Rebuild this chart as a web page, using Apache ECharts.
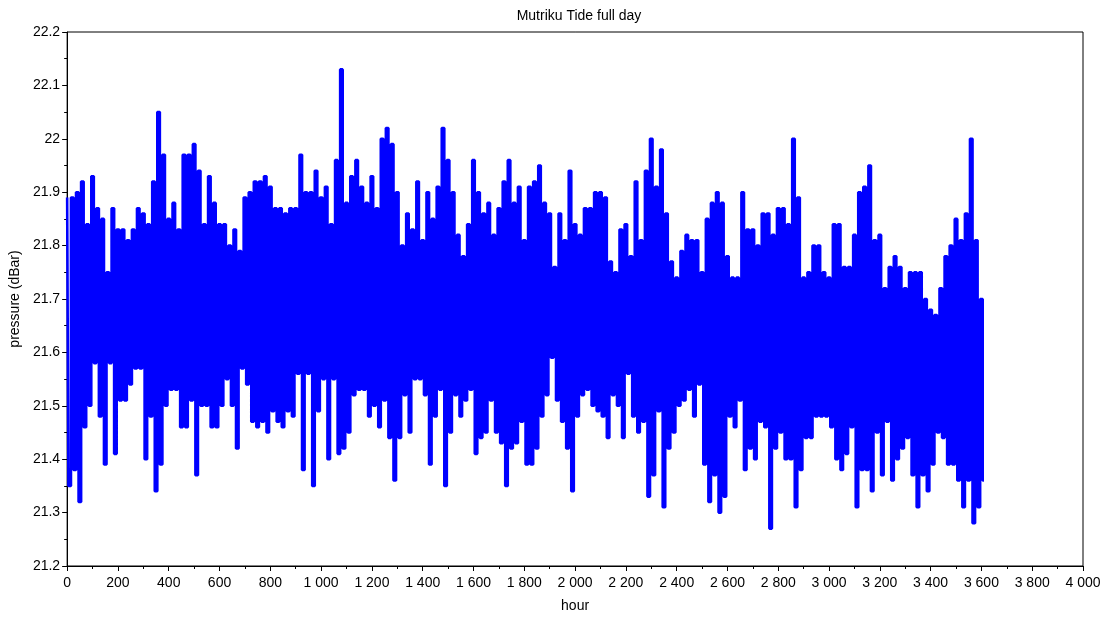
<!DOCTYPE html>
<html>
<head>
<meta charset="utf-8">
<script src="https://cdn.jsdelivr.net/npm/echarts@6/dist/echarts.min.js"></script>
<style>
html,body{margin:0;padding:0;background:#fff;}
#chart{width:1107px;height:619px;}
</style>
</head>
<body>
<div id="chart"></div>
<script>
// Sample spacing in hours: each window has one high and one low reading
const STEP = 20;
// Upper envelope (dBar), one per 20-hour window
const highs = [
21.89,21.89,21.90,21.92,21.84,21.93,21.87,21.85,21.75,21.87,
21.83,21.83,21.81,21.83,21.87,21.86,21.84,21.92,22.05,21.97,
21.85,21.88,21.83,21.97,21.97,21.99,21.94,21.84,21.93,21.88,
21.84,21.84,21.80,21.83,21.79,21.89,21.90,21.92,21.92,21.93,
21.91,21.87,21.87,21.86,21.87,21.87,21.97,21.90,21.90,21.94,
21.89,21.91,21.84,21.96,22.13,21.88,21.93,21.96,21.91,21.88,
21.93,21.87,22.00,22.02,21.99,21.90,21.80,21.86,21.83,21.92,
21.81,21.90,21.85,21.91,22.02,21.96,21.90,21.82,21.78,21.84,
21.96,21.90,21.86,21.88,21.82,21.87,21.92,21.96,21.88,21.91,
21.81,21.91,21.92,21.95,21.88,21.86,21.76,21.86,21.81,21.94,
21.84,21.82,21.87,21.87,21.90,21.90,21.89,21.77,21.75,21.83,
21.84,21.78,21.92,21.81,21.94,22.00,21.91,21.98,21.86,21.77,
21.74,21.79,21.82,21.81,21.81,21.75,21.85,21.88,21.90,21.88,
21.78,21.74,21.74,21.90,21.83,21.83,21.80,21.86,21.86,21.82,
21.87,21.87,21.84,22.00,21.89,21.74,21.75,21.80,21.80,21.75,
21.74,21.84,21.84,21.76,21.76,21.82,21.90,21.91,21.95,21.81,
21.82,21.72,21.76,21.78,21.76,21.72,21.75,21.75,21.75,21.70,
21.68,21.67,21.72,21.78,21.80,21.85,21.81,21.86,22.00,21.81,
21.70
];
// Lower envelope (dBar), one per 20-hour window
const lows = [
21.35,21.38,21.32,21.46,21.50,21.58,21.48,21.39,21.58,21.41,
21.51,21.51,21.54,21.57,21.57,21.40,21.48,21.34,21.39,21.50,
21.53,21.53,21.46,21.46,21.51,21.37,21.50,21.50,21.46,21.46,
21.50,21.55,21.50,21.42,21.57,21.54,21.47,21.46,21.47,21.45,
21.49,21.47,21.46,21.49,21.48,21.56,21.38,21.56,21.35,21.49,
21.55,21.40,21.55,21.41,21.42,21.45,21.52,21.53,21.53,21.48,
21.50,21.46,21.51,21.44,21.36,21.44,21.52,21.45,21.55,21.55,
21.52,21.39,21.48,21.53,21.35,21.45,21.52,21.48,21.51,21.53,
21.41,21.44,21.45,21.51,21.45,21.43,21.35,21.42,21.43,21.47,
21.39,21.39,21.42,21.48,21.52,21.59,21.51,21.47,21.42,21.34,
21.48,21.52,21.53,21.50,21.49,21.48,21.44,21.52,21.50,21.44,
21.56,21.48,21.45,21.47,21.33,21.37,21.49,21.31,21.42,21.45,
21.50,21.51,21.53,21.48,21.54,21.39,21.32,21.37,21.30,21.33,
21.48,21.46,21.51,21.38,21.42,21.40,21.47,21.46,21.27,21.42,
21.45,21.40,21.40,21.31,21.38,21.44,21.44,21.48,21.48,21.48,
21.46,21.40,21.38,21.41,21.46,21.31,21.38,21.38,21.34,21.45,
21.37,21.47,21.36,21.40,21.42,21.44,21.37,21.31,21.37,21.34,
21.39,21.45,21.44,21.39,21.39,21.36,21.31,21.36,21.28,21.31,
21.36
];
const xTicks = {min: 0, max: 4000, interval: 200};
const yTicks = {min: 21.2, max: 22.2, interval: 0.1};

const data = [];
for (let i = 0; i < highs.length; i++) {
  data.push([i * STEP, highs[i]]);
  data.push([i * STEP + STEP / 2, lows[i]]);
}

const FONT = 'Liberation Sans, Arial, sans-serif';
const chart = echarts.init(document.getElementById('chart'), null, {renderer: 'canvas'});
chart.setOption({
  animation: false,
  backgroundColor: '#fff',
  title: {
    text: 'Mutriku Tide full day',
    left: 574, textAlign: 'center', top: 4,
    textStyle: {fontFamily: FONT, fontSize: 14, fontWeight: 'normal', color: '#000'}
  },
  grid: {left: 65, right: 24, top: 32, bottom: 53, show: true, borderColor: '#000', borderWidth: 1, backgroundColor: 'transparent'},
  xAxis: {
    type: 'value', min: xTicks.min, max: xTicks.max, interval: xTicks.interval,
    name: 'hour', nameLocation: 'middle', nameGap: 33,
    nameTextStyle: {fontFamily: FONT, fontSize: 14, color: '#000'},
    axisLine: {show: true, lineStyle: {color: '#000', width: 1}},
    axisTick: {show: true, length: 5, lineStyle: {color: '#000'}},
    minorTick: {show: true, splitNumber: 2, length: 3, lineStyle: {color: '#000'}},
    splitLine: {show: false},
    axisLabel: {fontFamily: FONT, fontSize: 14, color: '#000', margin: 10,
      formatter: v => String(v).replace(/\B(?=(\d{3})+(?!\d))/g, ' ')}
  },
  yAxis: {
    type: 'value', min: yTicks.min, max: yTicks.max, interval: yTicks.interval,
    name: 'pressure (dBar)', nameLocation: 'middle', nameGap: 33,
    nameTextStyle: {fontFamily: FONT, fontSize: 14, color: '#000'},
    axisLine: {show: true, lineStyle: {color: '#000', width: 1}},
    axisTick: {show: true, length: 5, lineStyle: {color: '#000'}},
    minorTick: {show: true, splitNumber: 2, length: 3, lineStyle: {color: '#000'}},
    splitLine: {show: false},
    axisLabel: {fontFamily: FONT, fontSize: 14, color: '#000', margin: 7,
      formatter: v => String(+v.toFixed(1))}
  },
  series: [{
    type: 'line', data: data, symbol: 'none', sampling: null, step: 'middle',
    lineStyle: {color: '#0000ff', width: 2.6},
    clip: true
  }]
});
</script>
</body>
</html>
